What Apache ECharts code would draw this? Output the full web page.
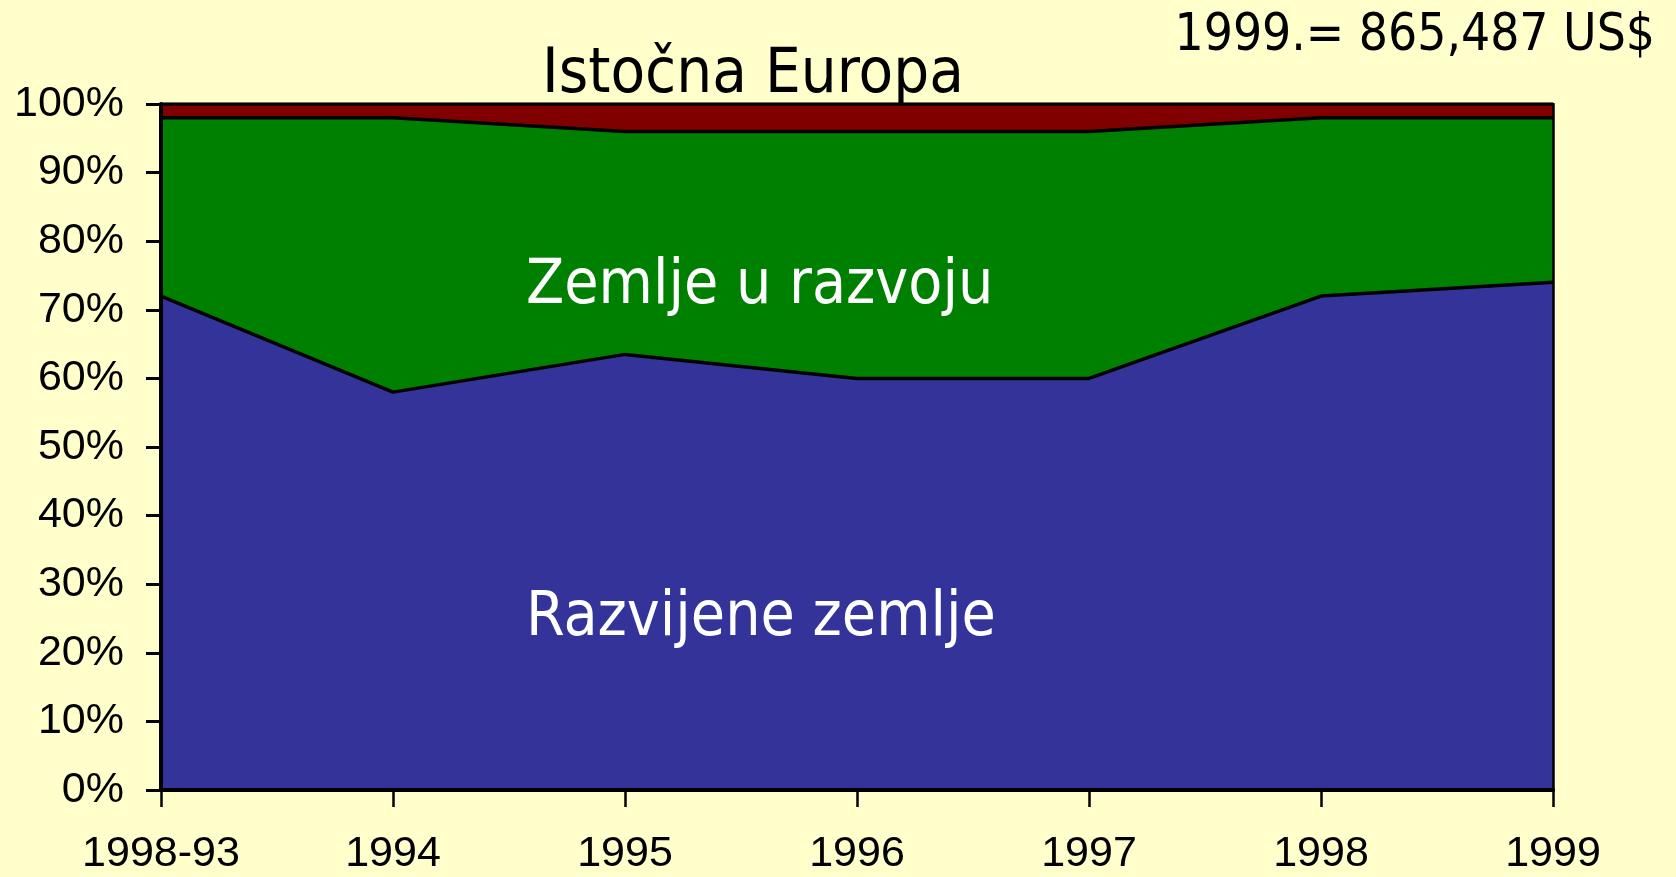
<!DOCTYPE html>
<html>
<head>
<meta charset="utf-8">
<title>Istočna Europa</title>
<script src="https://cdn.jsdelivr.net/npm/echarts@6/dist/echarts.min.js"></script>
<style>
  html, body { margin: 0; padding: 0; background: #ffffcc; }
  #chart { width: 1676px; height: 877px; }
</style>
</head>
<body>
<div id="chart"></div>
<script>
// years on the x axis
const years = ['1998-93', '1994', '1995', '1996', '1997', '1998', '1999']
// shares in percent, stacked bottom to top
const razvijene = [72, 58, 63.5, 60, 60, 72, 74]
const uRazvoju = [26, 40, 32.5, 36, 36, 26, 24]
const ostalo = [2, 2, 4, 4, 4, 2, 2]

const titleText = 'Istočna Europa'
const noteText = '1999.= 865,487 US$'

const tahoma = '"DejaVu Sans Condensed", "DejaVu Sans", sans-serif'
const arial = '"Liberation Sans", Arial, sans-serif'

const chart = echarts.init(document.getElementById('chart'))

function areaSeries(name, data, color, z) {
  return {
    name: name,
    type: 'line',
    stack: 'total',
    data: data,
    symbol: 'none',
    z: z,
    lineStyle: { color: '#000', width: 3.5 },
    areaStyle: { color: color, opacity: 1 },
    itemStyle: { color: color },
    animation: false
  }
}

chart.setOption({
  backgroundColor: '#ffffcc',
  grid: { left: 161, right: 123, top: 104, bottom: 87 },
  xAxis: {
    type: 'category',
    data: years,
    boundaryGap: false,
    z: 10,
    axisLine: { lineStyle: { color: '#000', width: 4 } },
    axisTick: { length: 17, lineStyle: { color: '#000', width: 2.5 } },
    axisLabel: { color: '#000', fontSize: 43, fontFamily: arial, margin: 43, interval: 0 }
  },
  yAxis: [
    {
      type: 'value',
      min: 0,
      max: 100,
      interval: 10,
      z: 10,
      splitLine: { show: false },
      axisLine: { show: true, lineStyle: { color: '#000', width: 4 } },
      axisTick: { show: true, length: 15, lineStyle: { color: '#000', width: 3 } },
      axisLabel: { color: '#000', fontSize: 43, fontFamily: arial, margin: 37, formatter: '{value}%' }
    },
    {
      type: 'value',
      position: 'right',
      min: 0,
      max: 100,
      z: 10,
      splitLine: { show: false },
      axisLine: { show: true, lineStyle: { color: '#000', width: 2.5 } },
      axisTick: { show: false },
      axisLabel: { show: false }
    }
  ],
  series: [
    areaSeries('Razvijene zemlje', razvijene, '#333399', 5),
    areaSeries('Zemlje u razvoju', uRazvoju, '#008000', 4),
    areaSeries('Ostalo', ostalo, '#800000', 3)
  ],
  graphic: [
    {
      type: 'text', left: 754 - 212, top: 44, z: 20,
      style: { text: titleText, font: '63px ' + tahoma, fill: '#000' }
    },
    {
      type: 'text', right: 21, top: 11, z: 20,
      style: { text: noteText, font: '51px ' + tahoma, fill: '#000' }
    },
    {
      type: 'text', left: 759 - 233, top: 256, z: 20,
      style: { text: 'Zemlje u razvoju', font: '62px ' + tahoma, fill: '#fff' }
    },
    {
      type: 'text', left: 761 - 235, top: 588, z: 20,
      style: { text: 'Razvijene zemlje', font: '62px ' + tahoma, fill: '#fff' }
    }
  ]
})
</script>
</body>
</html>
